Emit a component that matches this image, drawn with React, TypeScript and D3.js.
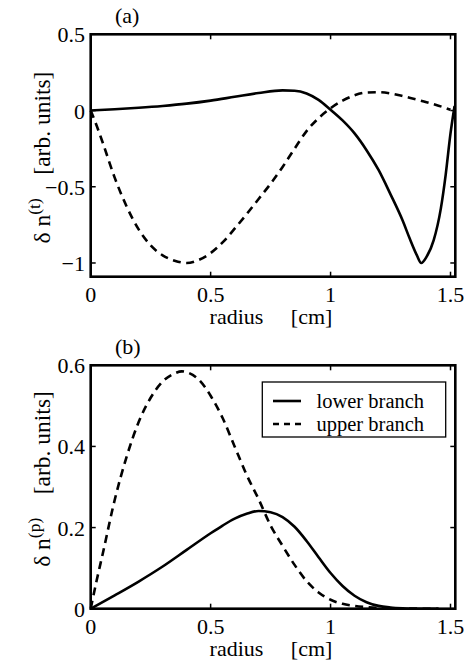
import React from "react";
import * as d3 from "d3";

// ---------- data ----------
// Panel (a): δn^(t)
const rA_lower = [0, 0.1, 0.2, 0.3, 0.4, 0.5, 0.6, 0.7, 0.8, 0.85, 0.9, 0.95, 1.0, 1.05, 1.1, 1.15, 1.2, 1.25, 1.3, 1.33, 1.36, 1.378, 1.4, 1.43, 1.46, 1.48, 1.5, 1.517];
const tA_lower = [0, 0.008, 0.018, 0.03, 0.045, 0.065, 0.09, 0.115, 0.132, 0.13, 0.112, 0.07, 0.005, -0.065, -0.15, -0.26, -0.39, -0.55, -0.72, -0.84, -0.95, -1.0, -0.96, -0.85, -0.64, -0.42, -0.15, 0.03];
const rA_upper = [0, 0.025, 0.05, 0.1, 0.15, 0.2, 0.25, 0.3, 0.35, 0.4, 0.45, 0.5, 0.55, 0.6, 0.65, 0.7, 0.75, 0.8, 0.85, 0.9, 0.95, 1.0, 1.05, 1.1, 1.15, 1.2, 1.25, 1.3, 1.35, 1.4, 1.45, 1.5];
const tA_upper = [0, -0.1, -0.21, -0.44, -0.63, -0.78, -0.885, -0.95, -0.985, -1.0, -0.98, -0.935, -0.865, -0.775, -0.68, -0.58, -0.48, -0.37, -0.25, -0.135, -0.05, 0.015, 0.065, 0.1, 0.118, 0.12, 0.112, 0.095, 0.075, 0.055, 0.032, 0.005];

// Panel (b): δn^(p)
const rB_lower = [0, 0.1, 0.2, 0.3, 0.4, 0.5, 0.55, 0.6, 0.65, 0.7, 0.75, 0.8, 0.85, 0.9, 0.95, 1.0, 1.05, 1.1, 1.15, 1.2, 1.25, 1.3, 1.35, 1.45];
const pB_lower = [0, 0.033, 0.067, 0.104, 0.145, 0.186, 0.205, 0.222, 0.234, 0.241, 0.238, 0.226, 0.202, 0.167, 0.127, 0.088, 0.056, 0.032, 0.016, 0.007, 0.003, 0.001, 0, 0];
const rB_upper = [0, 0.025, 0.05, 0.1, 0.15, 0.2, 0.25, 0.3, 0.35, 0.38, 0.4, 0.45, 0.5, 0.55, 0.6, 0.65, 0.7, 0.75, 0.8, 0.85, 0.9, 0.95, 1.0, 1.05, 1.1, 1.15, 1.2, 1.3, 1.4, 1.45];
const pB_upper = [0, 0.07, 0.135, 0.268, 0.375, 0.46, 0.52, 0.56, 0.58, 0.585, 0.583, 0.565, 0.525, 0.47, 0.4, 0.33, 0.27, 0.205, 0.155, 0.108, 0.068, 0.04, 0.022, 0.012, 0.007, 0.004, 0.002, 0.0005, 0, 0];

const xTicks = [0, 0.5, 1, 1.5];
const xTickLabels = ["0", "0.5", "1", "1.5"];
const yTicksA = [-1, -0.5, 0, 0.5];
const yTickLabelsA = ["\u22121", "\u22120.5", "0", "0.5"];
const yTicksB = [0, 0.2, 0.4, 0.6];
const yTickLabelsB = ["0", "0.2", "0.4", "0.6"];
const legendLabels = ["lower branch", "upper branch"];

const FONT = "'Liberation Serif', 'Times New Roman', serif";
const FS = 22;
const W = 469;
const H = 662;
const LEFT = 90.7;
const RIGHT = 455.3;

type PanelProps = {
  top: number;
  bottom: number;
  yDomain: [number, number];
  yTicks: number[];
  yTickLabels: string[];
  series: { r: number[]; v: number[]; dashed: boolean }[];
  tag: string;
  sup: string;
  labelShift: number;
  legend?: boolean;
};

function Panel({ top, bottom, yDomain, yTicks, yTickLabels, series, tag, sup, labelShift, legend }: PanelProps) {
  const x = d3.scaleLinear().domain([0, 1.52]).range([LEFT, RIGHT]);
  const y = d3.scaleLinear().domain(yDomain).range([bottom, top]);
  const line = d3
    .line<[number, number]>()
    .x((d) => x(d[0]))
    .y((d) => y(d[1]))
    .curve(d3.curveMonotoneX);
  const tl = 5;
  const cy = (top + bottom) / 2;
  const cx = (LEFT + RIGHT) / 2;
  return (
    <g fontFamily={FONT} fontSize={FS} fill="#000">
      {series.map((s, i) => (
        <path
          key={i}
          d={line(s.r.map((r, j) => [r, s.v[j]] as [number, number])) || ""}
          fill="none"
          stroke="#000"
          strokeWidth={2.6}
          strokeDasharray={s.dashed ? "8,5.5" : undefined}
        />
      ))}
      {/* ticks */}
      {xTicks.map((t, i) => (
        <g key={"x" + i}>
          <line x1={x(t)} x2={x(t)} y1={bottom} y2={bottom - tl} stroke="#000" strokeWidth={1.5} />
          <line x1={x(t)} x2={x(t)} y1={top} y2={top + tl} stroke="#000" strokeWidth={1.5} />
          <text x={x(t)} y={bottom + 25} textAnchor="middle">
            {xTickLabels[i]}
          </text>
        </g>
      ))}
      {yTicks.map((t, i) => (
        <g key={"y" + i}>
          <line x1={LEFT} x2={LEFT + tl} y1={y(t)} y2={y(t)} stroke="#000" strokeWidth={1.5} />
          <line x1={RIGHT} x2={RIGHT - tl} y1={y(t)} y2={y(t)} stroke="#000" strokeWidth={1.5} />
          <text x={85} y={y(t) + 8} textAnchor="end">
            {yTickLabels[i]}
          </text>
        </g>
      ))}
      <rect x={LEFT} y={top} width={RIGHT - LEFT} height={bottom - top} fill="none" stroke="#000" strokeWidth={2.6} />
      {/* x label */}
      <text x={cx - 2} y={bottom + 47} textAnchor="middle" style={{ whiteSpace: "pre" }}>
        {"radius     [cm]"}
      </text>
      {/* y label */}
      <text
        transform={`translate(50,${cy + labelShift}) rotate(-90)`}
        textAnchor="middle"
        fontSize={23.5}
        style={{ whiteSpace: "pre" }}
      >
        <tspan>{"\u03b4 n"}</tspan>
        <tspan fontSize={17.5} dy={-10}>{sup}</tspan>
        <tspan dy={10}>{"    [arb. units]"}</tspan>
      </text>
      {/* panel tag */}
      <text x={115} y={top - 11}>
        {tag}
      </text>
      {legend && (
        <g>
          <rect x={262.3} y={382} width={183.4} height={55} fill="#fff" stroke="#000" strokeWidth={1.3} />
          {legendLabels.map((lab, i) => {
            const ly = 401 + i * 23;
            return (
              <g key={lab}>
                <line
                  x1={273}
                  x2={301}
                  y1={ly}
                  y2={ly}
                  stroke="#000"
                  strokeWidth={2.6}
                  strokeDasharray={i === 1 ? "6,5" : undefined}
                />
                <text x={316.5} y={ly + 7} fontSize={20.5}>
                  {lab}
                </text>
              </g>
            );
          })}
        </g>
      )}
    </g>
  );
}

export default function App() {
  return (
    <svg
      width={W}
      height={H}
      viewBox={`0 0 ${W} ${H}`}
      style={{ position: "absolute", left: 0, top: 0, background: "#fff" }}
    >
      <rect width={W} height={H} fill="#fff" />
      <Panel
        top={34.3}
        bottom={276.7}
        yDomain={[-1.09, 0.5]}
        yTicks={yTicksA}
        yTickLabels={yTickLabelsA}
        series={[
          { r: rA_lower, v: tA_lower, dashed: false },
          { r: rA_upper, v: tA_upper, dashed: true },
        ]}
        tag="(a)"
        sup="(t)"
        labelShift={2}
      />
      <Panel
        top={365.3}
        bottom={608.7}
        yDomain={[0, 0.6]}
        yTicks={yTicksB}
        yTickLabels={yTickLabelsB}
        series={[
          { r: rB_lower, v: pB_lower, dashed: false },
          { r: rB_upper, v: pB_upper, dashed: true },
        ]}
        tag="(b)"
        sup="(p)"
        labelShift={-8}
        legend
      />
    </svg>
  );
}
